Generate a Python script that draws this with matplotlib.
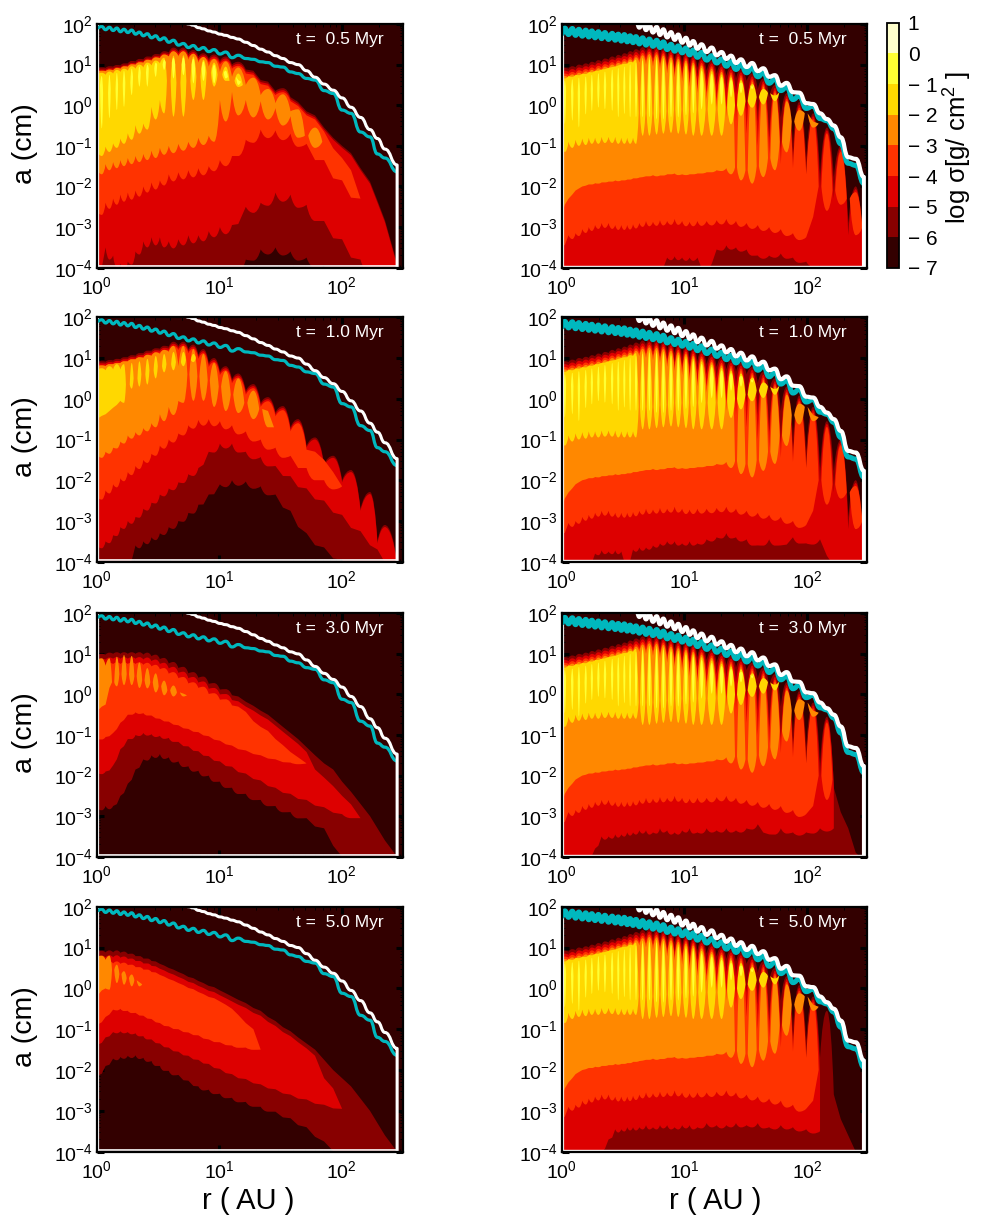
import numpy as np
import matplotlib
matplotlib.use("Agg")
import matplotlib.pyplot as plt
from matplotlib.path import Path
from matplotlib.patches import PathPatch
from matplotlib.colors import ListedColormap, BoundaryNorm
from matplotlib.cm import ScalarMappable
from matplotlib.ticker import LogLocator, NullFormatter

plt.rcParams['font.family'] = ['Liberation Sans', 'DejaVu Sans']
plt.rcParams['mathtext.fontset'] = 'custom'
plt.rcParams['mathtext.rm'] = 'Liberation Sans'
plt.rcParams['mathtext.default'] = 'regular'

times = ["0.5", "1.0", "3.0", "5.0"]
band_levels = [-7, -6, -5, -4, -3, -2, -1, 0, 1]
band_colors = ["#330000", "#880000", "#DD0000", "#FF3300", "#FF8800", "#FFD800", "#FFFF33", "#FFFFCC"]
bar_labels = ["\u2212 7", "\u2212 6", "\u2212 5", "\u2212 4", "\u2212 3", "\u2212 2", "\u2212 1", "0", "1"]
x_ticks = [1, 10, 100]
y_ticks = [1e-4, 1e-3, 1e-2, 1e-1, 1, 10, 100]

# ripple crests (AU), all vertical values below are log10(a)
left_peaks = [1.10, 1.27, 1.46, 1.67, 1.93, 2.23, 2.59, 3.03, 3.55, 4.23, 5.10, 6.15, 7.43, 9.08, 11.3, 14.3, 19.0,
              25.0, 33.1, 44.0, 60.5, 85.1, 119, 170, 225]
right_peaks = [1.06, 1.22, 1.38, 1.57, 1.76, 1.99, 2.25, 2.58, 2.89, 3.24, 3.61, 4.03, 4.57, 5.18, 5.94, 6.73, 7.78,
               8.91, 10.3, 11.8, 13.8, 16.7, 20.1, 24.0, 28.9, 35.7, 44.0, 54.7, 68.2, 86.3, 112, 145, 188, 249]
left_end = 283
right_end = 291

# lines, left column
l_cyan_p = [1.94, 1.92, 1.90, 1.87, 1.85, 1.80, 1.76, 1.71, 1.66, 1.60, 1.52, 1.47, 1.42, 1.37, 1.31, 1.23, 1.13, 1.05,
            .94, .78, .62, .29, -.2, -.78, -1.3]
l_cyan_t = [1.9, 1.86, 1.84, 1.81, 1.79, 1.75, 1.71, 1.66, 1.61, 1.55, 1.48, 1.42, 1.37, 1.32, 1.26, 1.17, 1.15, 1.07,
            .96, .82, .66, .36, -.12, -.66, -1.2, -1.64]
l_white_p = [2.05, 1.97, 1.88, 1.80, 1.72, 1.63, 1.47, 1.31, 1.15, 1.0, .69, .37, -.05, -.6, -1.08]
l_white_t = [2.1, 2.0, 1.91, 1.83, 1.75, 1.67, 1.55, 1.38, 1.22, 1.05, .85, .52, .18, -.3, -.82, -1.47]

# lines, right column
r_cyan_p = [1.90, 1.89, 1.87, 1.85, 1.83, 1.81, 1.79, 1.77, 1.75, 1.74, 1.71, 1.69, 1.66, 1.63, 1.60, 1.56, 1.50, 1.46,
            1.41, 1.36, 1.30, 1.22, 1.14, 1.07, 1.00, .92, .80, .65, .45, .23, -.02, -.38, -.95, -1.48]
r_cyan_t = [1.76, 1.74, 1.72, 1.70, 1.68, 1.66, 1.64, 1.62, 1.60, 1.58, 1.56, 1.54, 1.51, 1.48, 1.45, 1.42, 1.37, 1.33,
            1.29, 1.24, 1.18, 1.11, 1.04, .96, .88, .80, .70, .54, .36, .14, -.08, -.33, -.58, -1.43, -1.93]
r_white_p = [2.1, 2.04, 1.98, 1.93, 1.87, 1.8, 1.74, 1.66, 1.58, 1.5, 1.42, 1.31, 1.22, 1.13, 1.04, .91, .74, .55, .31,
             .03, -.34, -.79, -1.32]
r_white_t = [2.15, 1.91, 1.85, 1.79, 1.73, 1.67, 1.61, 1.54, 1.47, 1.39, 1.31, 1.23, 1.14, 1.04, .94, .84, .70, .48, .32,
             .05, -.2, -.5, -1.28, -1.77]

# left column, 0.5 Myr
a_top_p = [.93, .96, .99, 1.03, 1.09, 1.14, 1.2, 1.26, 1.33, 1.42, 1.42, 1.36, 1.28, 1.25, 1.2, 1.07, .85, .58, .42, .08,
           -.25, -.8, -1.18, -1.88, -2.83]
a_top_t = [.90, .92, .95, .98, 1.03, 1.08, 1.13, 1.19, 1.25, 1.3, 1.33, 1.27, 1.2, 1.15, 1.1, 1.0, .88, .62, .35, .2,
           -.15, -.55, -1.0, -1.55, -2.35, -3.9]
a_d6 = [-4.1] * 16 + [-3.8, -3.55, -3.5, -3.6, -3.75, -3.95, -4.1, -4.1, -4.1, -4.1]
a_d5 = [-4.1, -3.5, -3.7, -3.9, -3.85, -3.6, -3.35, -3.25, -3.25, -3.35, -3.3, -3.2, -3.2, -3.1, -3.0, -2.95, -2.5, -2.4,
        -2.15, -2.2, -2.45, -2.85, -3.3, -3.8, -4.1, -4.1]
a_d4 = [-2.6, -2.4, -2.3, -2.2, -2.15, -2.1, -2.0, -1.9, -1.85, -1.7, -1.65, -1.6, -1.55, -1.5, -1.35, -1.25, -.85, -.6,
        -.62, -.7, -.95, -1.35, -1.85, -2.3]
a_ro_tail_up = [-1.06, -1.6]
a_ro_tail_t = [-1.3, -2.3]
a_or_up = [.85, .88, .92, .96, 1.01, 1.06, 1.12, 1.18, 1.25, 1.33, 1.33, 1.27, 1.19, 1.14, 1.08, .93, .68, .4, .27, -.1, -.55]
a_or_ut = [.82, .84, .86, .9, .95, 1.0, 1.05, 1.1, 1.16, 1.2, 1.2, 1.12, 1.05, .95, .82, .7, .5, .25, .05, -.15, -.75, -.9]
a_or_lp = [-1.7, -1.6, -1.55, -1.5, -1.45, -1.4, -1.35, -1.3, -1.22, -1.18, -1.12, -1.05, -.98, -.9, -.4, -.25, -.3, -.35,
           -.5, -.8, -1.05]
a_or_lt = [-1.55, -1.45, -1.4, -1.35, -1.3, -1.25, -1.2, -1.12, -1.05, -1.0, -.95, -.9, -.8, -.75, .13, .33, .13, .1,
           -.07, -.27, -.75, -.9]
a_go_up = [.8, .83, .87, .9, .96, 1.0, 1.05, 1.1, 1.17, 1.22, 1.23, 1.2, 1.12, 1.05, .95, .78]
a_go_ut = [.75, .75, .78, .82, .85, .9, .93, .98, 1.03, .6, .55, .6, .7, .8, .75, .6, .5]
a_go_lp = [-1.25, -1.15, -1.05, -.95, -.85, -.7, -.6, -.35, -.2, -.28, -.28, .13, .13, .46, .6, .45]
a_go_lt = [-1.1, -1.02, -.94, -.82, -.69, -.49, -.45, -.04, .13, .6, .55, .6, .7, .8, .75, .6, .5]
a_ye_up = [.72, .75, .8, .85, .9, .95, 1.0, 1.05, 1.12, 1.17, 1.18, 1.15, 1.08, 1.0, .85, .62]
a_ye_lp = [-.57, -.32, -.12, -.04, .25, .46, .46, .7, .87, .66, .74, .54, .6, .54, .66, .5]
a_ye_w = [.5, .3, .4, .5, .55, .7, .8, .9, 1.0, 1.05, 1.0, 1.0, .9, .85, .8, .7, .58]

# left column, 1.0 Myr
b_top_p = [.92, .95, .98, 1.02, 1.07, 1.12, 1.18, 1.24, 1.3, 1.4, 1.4, 1.33, 1.22, 1.0, .8, .62, .36, .04, -.18, -.5,
           -.95, -1.4, -1.75, -2.29, -3.1]
b_top_t = [.89, .91, .94, .97, 1.02, 1.06, 1.12, 1.18, 1.23, 1.28, 1.3, 1.22, 1.08, .88, .68, .48, .2, -.1, -.33, -.7,
           -1.15, -1.6, -2.0, -2.7, -3.5, -4.0]
b_d6 = [-4.1, -4.1, -4.1, -4.1, -4.1, -3.6, -3.5, -3.4, -3.3, -3.15, -3.0, -2.8, -2.6, -2.35, -2.1, -2.0, -2.03, -2.15,
        -2.35, -2.75, -3.3, -3.65, -3.95, -4.1, -4.1, -4.1]
b_d5 = [-3.6, -3.5, -3.35, -3.15, -3.0, -2.9, -2.7, -2.55, -2.35, -2.2, -2.05, -1.85, -1.7, -1.3, -1.1, -1.1, -1.3, -1.43,
        -1.65, -1.9, -2.2, -2.5, -2.85, -3.25, -3.7, -4.1]
b_d4 = [-2.4, -2.25, -2.1, -1.95, -1.8, -1.65, -1.5, -1.35, -1.15, -1.0, -.85, -.65, -.52, -.5, -.55, -.65, -.8, -1.0,
        -1.2, -1.4, -1.7, -2.0, -2.15]
b_ro_tail_up = [-1.3, -1.8]
b_ro_tail_t = [-1.5, -2.15]
b_or_up = [.82, .85, .88, .92, .97, 1.02, 1.08, 1.14, 1.2, 1.3, 1.3, 1.22, 1.1, .88, .68, .5, .2, -.3]
b_or_ut = [.8, .8, .85, .88, .92, .97, 1.0, 1.05, 1.1, 1.15, .8, .6, .55, .45, .3, .1, -.1, -.25, -.7]
b_or_lp = [-1.45, -1.35, -1.22, -1.1, -.98, -.9, -.8, -.7, -.55, -.4, -.1, -.05, -.05, -.2, -.3, -.35, -.5, -.7]
b_or_lt = [-1.35, -1.3, -1.2, -1.05, -.9, -.82, -.72, -.6, -.38, -.2, -.05, .6, .55, .45, .3, .1, -.1, -.25, -.7]
b_go_up = [.75, .8, .85, .85, .88, .92, .98, 1.05, 1.1, 1.15, 1.15, 1.1]
b_go_ut = [.7, .7, .72, .72, .35, .5, .6, .7, .8, .85, .9, .95, 1.0]
b_go_lp = [-.42, -.3, -.15, -.1, .25, .3, .35, .5, .65, .7, .8, .9]
b_go_lt = [-.5, -.38, -.22, -.05, .35, .5, .6, .7, .8, .85, .9, .95, 1.0]

# left column, 3.0 Myr
c_top_p = [1.0, 1.03, 1.04, 1.04, 1.04, 1.04, 1.03, .98, .9, .8, .68, .55, .44, .28, .13, -.05, -.28, -.5, -.8, -1.1,
           -1.5, -1.85, -2.4, -3.0, -3.6]
c_top_t = [.97, .98, 1.0, 1.0, 1.0, 1.0, .98, .94, .87, .76, .65, .52, .41, .26, .12, -.02, -.18, -.4, -.65, -.95,
           -1.3, -1.7, -2.15, -2.7, -3.3, -4.0]
c_d6 = [-2.8, -2.75, -2.75, -2.5, -2.2, -1.85, -1.6, -1.5, -1.47, -1.55, -1.65, -1.77, -1.88, -2.0, -2.15, -2.3, -2.45,
        -2.6, -2.75, -2.9, -3.05, -3.3, -4.0, -4.1, -4.1, -4.1]
c_d5 = [-1.93, -1.9, -1.75, -1.35, -1.1, -1.0, -.95, -.98, -1.02, -1.07, -1.17, -1.28, -1.4, -1.52, -1.65, -1.78, -1.95,
        -2.12, -2.3, -2.45, -2.6, -2.78, -2.95, -3.05]
c_red_tail_up = [-1.85, -2.26, -2.71]
c_red_tail_t = [-2.05, -2.5, -3.05]
c_d4 = [-1.11, -1.05, -.95, -.7, -.5, -.44, -.46, -.52, -.6, -.67, -.76, -.85, -.93, -1.03, -1.14, -1.26, -1.38, -1.5,
        -1.6, -1.68, -1.7]
c_ro_tail_up = [-.66, -.9, -1.25, -1.55]
c_ro_tail_t = [-.8, -1.1, -1.42, -1.7]
c_or_up = [.89, .89, .93, .97, .95, .79, .65, .52, .34, .22, .02]
c_or_ut = [.85, .7, .3, .5, .5, .45, .35, .3, .2, .1, .05, -.02]
c_or_lp = [-.3, .16, .2, .23, .23, .16, .15, .05, -.02, -.05, -.05]
c_or_lt = [-.42, -.25, .3, .5, .5, .45, .35, .3, .2, .1, .05, -.02]

# left column, 5.0 Myr
d_top_p = [.92, .93, .93, .9, .85, .79, .73, .66, .56, .46, .35, .25, .13, .03, -.12, -.28, -.48, -.7, -.95, -1.2, -1.5,
           -2.0, -2.4, -3.0, -3.6]
d_top_t = [.88, .88, .88, .87, .84, .79, .73, .67, .6, .5, .4, .28, .18, .06, -.05, -.2, -.36, -.55, -.8, -1.05, -1.35,
           -1.75, -2.2, -2.7, -3.3, -4.0]
d_d6 = [-2.16, -1.9, -1.72, -1.68, -1.65, -1.64, -1.7, -1.78, -1.9, -2.02, -2.12, -2.26, -2.4, -2.48, -2.58, -2.68, -2.78,
        -2.9, -3.02, -3.18, -3.4, -3.75, -4.1, -4.1, -4.1, -4.1]
d_d5 = [-1.39, -1.2, -1.07, -1.05, -1.07, -1.1, -1.17, -1.25, -1.35, -1.45, -1.55, -1.65, -1.75, -1.85, -1.97, -2.1, -2.22,
        -2.35, -2.47, -2.6, -2.72, -2.85, -2.95]
d_red_tail_up = [-1.65, -2.45]
d_red_tail_t = [-2.2, -2.95]
d_d4 = [-.9, -.7, -.52, -.5, -.55, -.6, -.67, -.75, -.85, -.93, -1.0, -1.08, -1.15, -1.25, -1.32, -1.4, -1.45, -1.5]
d_ro_tail_up = [-.4, -.65, -1.0]
d_ro_tail_t = [-.5, -.85, -1.5]
d_or_up = [.8, .8, .58, .42, .34, .15]
d_or_ut = [.78, .7, .45, .35, .25, .2, .1]
d_or_lp = [-.05, -.03, .13, .09, .05, .05]
d_or_lt = [-.2, 0.0, .45, .35, .25, .2, .1]

# right column, shared by the four times
r_top_p = [.92, .96, 1.0, 1.03, 1.07, 1.11, 1.15, 1.2, 1.24, 1.28, 1.33, 1.38, 1.43, 1.46, 1.45, 1.42, 1.38, 1.34, 1.3,
           1.25, 1.18, 1.1, 1.02, .95, .88, .78, .66, .5, .3, .08, -.2, -.55, -1.0, -2.0]
r_top_t = [.88, .9, .93, .97, 1.0, 1.04, 1.07, 1.12, 1.16, 1.2, 1.25, 1.3, 1.33, 1.33, 1.3, 1.25, 1.18, 1.12, 1.05, 1.0,
           .92, .85, .78, .72, .66, .6, .39, .2, -.3, -.95, -1.28, -1.69, -1.77, -2.9, -3.9]
r_red_ut = [.8, .82, .85, .9, .93, .97, 1.0, 1.05, 1.1, 1.15, 1.18, 1.2, 1.22, 1.22, 1.15, 1.05, .98, .9, .85, .78, .7,
            .6, .5, .4, .3, -.1, -.4, -.8, -1.1, -1.5, -1.9, -2.1, -2.3, -3.2, -4.0]
r_ro_ut = [.72, .75, .78, .82, .85, .88, .92, .97, 1.0, 1.05, 1.08, 1.1, 1.12, 1.1, 1.05, .95, .85, .75, .65, .55, .4,
           .3, .1, -.1, -.4, -.7, -1.0, -1.2, -1.45, -1.55, -1.7, -2.0, -2.1, -2.3, -3.0]
r_ro_lt = [-3.3, -3.05, -3.0, -2.9, -2.85, -2.8, -2.75, -2.75, -2.8, -2.8, -2.8, -2.78, -2.75, -2.7, -2.72, -2.68, -2.7,
           -2.65, -2.7, -2.72, -2.7, -2.7, -2.68, -2.65, -2.7, -2.75, -2.8, -2.85, -2.9, -3.0, -3.1, -2.0, -2.1, -2.3, -3.0]
r_ro_lp_tail = [-2.75, -2.6, -2.45, -3.2]
r_or_ut = [.65, .68, .7, .75, .78, .8, .85, .9, .95, 1.0, 1.03, 1.05, 1.05, 1.0, .95, .88, .78, .68, .58, .45, .3, .15,
           -.05, -.3, -1.53, -1.6, -1.5, -1.3, -.9, -.4, -.2, -.45]
r_or_lp = [-2.45, -2.2, -2.05, -1.98, -1.95, -1.93, -1.9, -1.88, -1.87, -1.85, -1.83, -1.8, -1.77, -1.75, -1.75, -1.73,
           -1.7, -1.72, -1.72, -1.7, -1.68, -1.65, -1.62, -1.7, -1.85, -1.93, -1.77, -1.6, -1.16, -.63, -.55]
r_or_lt = [-2.7, -2.3, -2.1, -2.0, -1.95, -1.92, -1.9, -1.88, -1.85, -1.85, -1.83, -1.8, -1.78, -1.75, -1.72, -1.73, -1.7,
           -1.68, -1.7, -1.7, -1.68, -1.65, -1.6, -1.55, -1.53, -1.6, -1.5, -1.3, -.9, -.4, -.2, -.45]
r_go_ut = [.7, .72, .75, .78, .82, .85, .88, .92, .95, 1.0, 1.02, 1.05, -.2, -.2, -.2, -.15, -.15, -.1, -.1, -.1, -.1,
           -.1, -.1, -.05, 0, .1, .2, .3, .35]
r_go_lp = [-1.15, -1.05, -1.0, -.98, -.95, -.95, -.93, -.93, -.95, -.95, -.95, -.95, -.75, -.75, -.72, -.7, -.68, -.7,
           -.72, -.75, -.75, -.75, -.75, -.47, -.26, -.06, .02, .1]
r_go_lt = [-.98, -.9, -.85, -.82, -.8, -.8, -.78, -.78, -.78, -.8, -.8, -.8, -.2, -.2, -.2, -.15, -.15, -.1, -.1, -.1,
           -.1, -.1, -.1, -.05, 0, .1, .2, .3, .35]
r_ye_lp = [-.46, -.38, -.55, -.23, -.14, -.06, -.1, -.14, -.3, -.22, -.3, -.3, -.3, -.3, -.35, -.35, -.3, -.3, -.25, -.2,
           -.1, .02, .02, .2, .3, .4]
r_ye_w = [.35, .35, .3, .3, .4, .4, .45, .5, .5, .45, .45, .45, .4, .45, .45, .45, .45, .45, .45, .45, .5, .5, .5, .5,
          .5, .5, .55]

# right column, per time
r_red_lt = [
    [-4.1] * 16 + [-3.75, -3.72, -3.75, -3.75, -3.75, -4.1, -3.55, -3.45, -3.5, -3.55, -3.7, -3.7, -3.65, -3.75, -3.85,
                   -3.95, -4.1, -4.1, -4.1],
    [-4.1, -4.1, -4.1, -4.1, -4.1, -3.8, -3.72, -3.75, -3.72, -3.75, -4.1, -3.7, -3.65, -3.65, -3.6, -3.55, -3.5, -3.5,
     -3.55, -3.5, -3.55, -3.45, -3.4, -3.3, -3.4, -3.45, -3.6, -3.45, -3.6, -3.4, -3.55, -3.45, -4.1, -4.1, -4.1],
    [-4.1, -4.1, -4.1, -4.1, -4.0, -3.8, -3.5, -3.5, -3.45, -3.45, -3.4, -3.4, -3.35, -3.35, -3.4, -3.3, -3.35, -3.4,
     -3.35, -3.3, -3.4, -3.3, -3.35, -3.3, -3.35, -3.3, -3.2, -3.45, -3.3, -3.4, -3.4, -3.3, -3.3, -4.1, -4.1],
    [-4.1, -4.1, -4.1, -4.1, -4.1, -4.1, -4.0, -3.7, -3.45, -3.45, -3.4, -3.4, -3.4, -3.35, -3.4, -3.35, -3.35, -3.4,
     -3.35, -3.35, -3.4, -3.3, -3.35, -3.35, -3.3, -3.35, -3.3, -3.4, -3.35, -3.4, -3.45, -3.5, -4.1, -4.1, -4.1],
]
r_ro_shift = [-.15, 0.0, .15, .15]
r_gold_shift = [0.0, 0.0, .35, .3]
r_last_peak = [34, 34, 32, 31]
r_tail_p = [[-1.0, -2.0], [-1.0, -2.0], [-2.9, -3.9], [-3.2, -4.0]]
r_tail_t = [[-1.77, -2.9, -3.9], [-1.77, -2.9, -3.9], [-2.3, -3.3, -4.1], [-2.6, -3.6, -4.1]]


def half_nodes(peaks, r_end):
    # x position in log10 r: even index = trough, odd index = crest
    p = np.log10(peaks)
    xs = [0.0]
    for i in range(len(p)):
        xs.append(p[i])
        xs.append((p[i] + p[i + 1]) / 2 if i + 1 < len(p) else np.log10(r_end))
    return np.array(xs)


def add_ripple(v, c, pts):
    # pts goes trough, crest, trough ... ; the pen already sits on pts[0]
    for i in range(1, len(pts), 2):
        x0, y0 = pts[i - 1]
        x1, y1 = pts[i]
        x2, y2 = pts[i + 1]
        if (y1 - y0) * (y2 - y1) > 0:
            # on a steep stretch there is no crest to round
            v += [(x1, y1), (x2, y2)]
            c += [Path.LINETO, Path.LINETO]
            continue
        d1, d2 = x1 - x0, x2 - x1
        v += [(x0 + .25 * d1, y0 + .6 * (y1 - y0)), (x0 + .6 * d1, y1), (x1, y1)]
        v += [(x1 + .4 * d2, y1), (x1 + .75 * d2, y2 + .6 * (y1 - y2)), (x2, y2)]
        c += [Path.CURVE4] * 6


def band(ax, X, up, ut, lp, lt, color, first=0, width=1.0):
    up, ut, lp, lt = [np.asarray(a, dtype=float) for a in (up, ut, lp, lt)]
    n = len(up)
    assert len(lp) == n and len(ut) == n + 1 and len(lt) == n + 1
    gap = ut <= lt
    verts, codes = [], []
    a = 0
    while a < n:
        b = a
        while b + 1 < n and not gap[b + 1]:
            b += 1
        xl, xr = X[2 * (first + a)], X[2 * (first + b + 1)]
        if gap[a]:
            xc = X[2 * (first + a) + 1]
            xl = xc - width * (xc - xl)
        if gap[b + 1]:
            xc = X[2 * (first + b) + 1]
            xr = xc + width * (xr - xc)
        yl_u = (ut[a] + lt[a]) / 2 if gap[a] else ut[a]
        yr_u = (ut[b + 1] + lt[b + 1]) / 2 if gap[b + 1] else ut[b + 1]
        yl_l = yl_u if gap[a] else lt[a]
        yr_l = yr_u if gap[b + 1] else lt[b + 1]
        upper = [(xl, yl_u)]
        lower = [(xr, yr_l)]
        for k in range(a, b + 1):
            upper.append((X[2 * (first + k) + 1], up[k]))
            upper.append((xr, yr_u) if k == b else (X[2 * (first + k + 1)], ut[k + 1]))
        for k in range(b, a - 1, -1):
            lower.append((X[2 * (first + k) + 1], lp[k]))
            lower.append((xl, yl_l) if k == a else (X[2 * (first + k)], lt[k]))
        v, c = [upper[0]], [Path.MOVETO]
        add_ripple(v, c, upper)
        v.append(lower[0])
        c.append(Path.LINETO)
        add_ripple(v, c, lower)
        v.append(upper[0])
        c.append(Path.CLOSEPOLY)
        verts += v
        codes += c
        a = b + 1
    ax.add_patch(PathPatch(Path(10.0 ** np.array(verts), codes), fc=color, ec='none', lw=0, zorder=2))


def dips(lt, dip):
    lt = np.asarray(lt, dtype=float)
    return (lt[:-1] + lt[1:]) / 2 - dip


def tail(arr, vals):
    arr = np.array(arr, dtype=float)
    arr[-len(vals):] = vals
    return arr


def wave(ax, X, p, t, color, lw, first=0, drop=False):
    # smooth line through crest and trough readings
    v = [(X[2 * first], t[0])]
    c = [Path.MOVETO]
    for i in range(len(p)):
        for x0, y0, x1, y1 in ((X[2 * (first + i)], t[i], X[2 * (first + i) + 1], p[i]),
                               (X[2 * (first + i) + 1], p[i], X[2 * (first + i + 1)], t[i + 1])):
            m = (x0 + x1) / 2
            v += [(m, y0), (m, y1), (x1, y1)]
            c += [Path.CURVE4] * 3
    if drop:
        v.append((X[-1], -4.0))
        c.append(Path.LINETO)
    ax.add_patch(PathPatch(Path(10.0 ** np.array(v), c), fc='none', ec=color, lw=lw, zorder=5, joinstyle='round'))


def make_axes(fig, x0, x1, y0, y1, xmax):
    ax = fig.add_axes([x0 / 981, 1 - y1 / 1223, (x1 - x0) / 981, (y1 - y0) / 1223])
    ax.set_xscale('log')
    ax.set_yscale('log')
    ax.set_facecolor(band_colors[0])
    ax.set_xticks(x_ticks)
    ax.set_yticks(y_ticks)
    ax.set_xlim(1, xmax)
    ax.set_ylim(1e-4, 1e2)
    for axis in (ax.xaxis, ax.yaxis):
        axis.set_minor_locator(LogLocator(base=10, subs=range(2, 10), numticks=100))
        axis.set_minor_formatter(NullFormatter())
    ax.tick_params(which='major', direction='in', top=True, right=True, length=5, width=2.2,
                   labelsize=14, colors='black', zorder=10)
    ax.tick_params(axis='x', which='major', pad=6)
    ax.tick_params(axis='y', which='major', pad=3)
    ax.tick_params(which='minor', direction='in', top=True, right=True, length=2.5, width=.7)
    for s in ax.spines.values():
        s.set_linewidth(1.6)
        s.set_zorder(8)
    return ax


fig = plt.figure(figsize=(9.81, 12.23), dpi=100)

rows_y = [(24, 267.7), (317.3, 561.7), (613.3, 856.7), (906.7, 1151.7)]
XL = half_nodes(left_peaks, left_end)
XR = half_nodes(right_peaks, right_end)

for row, (y0, y1) in enumerate(rows_y):
    ax = make_axes(fig, 96.7, 403, y0, y1, 316)

    if row == 0:
        tp, tt = np.array(a_top_p), np.array(a_top_t)
        band(ax, XL, tp, tt, dips(a_d6, .15), a_d6, band_colors[1])
        band(ax, XL, tp - .05, tt - .05, dips(a_d5, .2), a_d5, band_colors[2])
        band(ax, XL, tail(tp[:23] - .1, a_ro_tail_up), tail(tt[:24] - .1, a_ro_tail_t), dips(a_d4, .2), a_d4, band_colors[3])
        band(ax, XL, a_or_up, a_or_ut, a_or_lp, a_or_lt, band_colors[4], width=.8)
        band(ax, XL, a_go_up, a_go_ut, a_go_lp, a_go_lt, band_colors[5], width=.6)
        band(ax, XL, a_ye_up, a_ye_w, a_ye_lp, a_ye_w, band_colors[6], width=.35)
    elif row == 1:
        tp, tt = np.array(b_top_p), np.array(b_top_t)
        band(ax, XL, tp, tt, dips(b_d6, .12), b_d6, band_colors[1])
        band(ax, XL, tp - .05, tt - .05, dips(b_d5, .12), b_d5, band_colors[2])
        band(ax, XL, tail(tp[:22] - .1, b_ro_tail_up), tail(tt[:23] - .1, b_ro_tail_t), dips(b_d4, .15), b_d4, band_colors[3])
        band(ax, XL, b_or_up, b_or_ut, b_or_lp, b_or_lt, band_colors[4], width=.8)
        band(ax, XL, b_go_up, b_go_ut, b_go_lp, b_go_lt, band_colors[5], width=.5)
    elif row == 2:
        tp, tt = np.array(c_top_p), np.array(c_top_t)
        band(ax, XL, tp, tt, dips(c_d6, .08), c_d6, band_colors[1])
        band(ax, XL, tail(tp[:23] - .12, c_red_tail_up), tail(tt[:24] - .12, c_red_tail_t), dips(c_d5, .05), c_d5, band_colors[2])
        band(ax, XL, tail(tp[:20] - .25, c_ro_tail_up), tail(tt[:21] - .25, c_ro_tail_t), dips(c_d4, .03), c_d4, band_colors[3])
        band(ax, XL, c_or_up, c_or_ut, c_or_lp, c_or_lt, band_colors[4], width=.7)
    else:
        tp, tt = np.array(d_top_p), np.array(d_top_t)
        band(ax, XL, tp, tt, dips(d_d6, .06), d_d6, band_colors[1])
        band(ax, XL, tail(tp[:22] - .12, d_red_tail_up), tail(tt[:23] - .12, d_red_tail_t), dips(d_d5, .04), d_d5, band_colors[2])
        band(ax, XL, tail(tp[:17] - .27, d_ro_tail_up), tail(tt[:18] - .27, d_ro_tail_t), dips(d_d4, .03), d_d4, band_colors[3])
        band(ax, XL, d_or_up, d_or_ut, d_or_lp, d_or_lt, band_colors[4], width=.7)

    ax.plot([1.03, 1.03], [1.05e-4, 90], color='white', lw=1.6, zorder=4)
    ax.plot([1, left_end], [1.08e-4, 1.08e-4], color='white', lw=1.2, zorder=4)
    wave(ax, XL, l_cyan_p, l_cyan_t, '#00B8BE', 2.3)
    wave(ax, XL, l_white_p, l_white_t, 'white', 2.2, first=10, drop=True)
    fig.text(340 / 981, 1 - (y0 + 15.5) / 1223, "t =  " + times[row] + " Myr", color='white', fontsize=12.5,
             ha='center', va='center')
    fig.text(25 / 981, 1 - (y0 + y1) / 2 / 1223 + .002, "a (cm)", rotation=90, fontsize=20.5, ha='center', va='center')

    # right column
    ax = make_axes(fig, 561.7, 866.7, y0, y1, 306)
    last = r_last_peak[row]
    top_p = np.array(r_top_p)
    top_t = np.array(r_top_t)
    top_p[-2:] = r_tail_p[row]
    top_t[-3:] = r_tail_t[row]
    red_lt = np.array(r_red_lt[row])
    ro_lt = np.array(r_ro_lt)
    ro_lt[:31] += r_ro_shift[row]
    ro_lp = tail(dips(ro_lt, .12), r_ro_lp_tail)
    go_lp = np.array(r_go_lp)
    go_lt = np.array(r_go_lt)
    go_lp[:12] += r_gold_shift[row]
    go_lt[:12] += r_gold_shift[row]
    keep_up = np.array(r_top_p)

    band(ax, XR, top_p, top_t, np.full(34, -4.1), np.full(35, -4.1), band_colors[1])
    band(ax, XR, keep_up[:last] - .07, r_red_ut[:last + 1], dips(red_lt[:last + 1], .08), red_lt[:last + 1], band_colors[2],
         width=.85)
    band(ax, XR, keep_up[:last] - .14, r_ro_ut[:last + 1], ro_lp[:last], ro_lt[:last + 1], band_colors[3], width=.8)
    band(ax, XR, keep_up[:31] - .2, r_or_ut, r_or_lp, r_or_lt, band_colors[4], width=.8)
    band(ax, XR, keep_up[:28] - .26, r_go_ut, go_lp, go_lt, band_colors[5], width=.8)
    band(ax, XR, keep_up[:26] - .32, r_ye_w, r_ye_lp, r_ye_w, band_colors[6], width=.35)

    ax.plot([1.02, 1.02], [1.05e-4, 60], color='white', lw=1.6, zorder=4)
    ax.plot([1, right_end], [1.08e-4, 1.08e-4], color='white', lw=1.0, zorder=4)
    wave(ax, XR, r_cyan_p, r_cyan_t, '#00B8BE', 3.6)
    wave(ax, XR, r_white_p, r_white_t, 'white', 3.0, first=11, drop=True)
    fig.text(803 / 981, 1 - (y0 + 15.5) / 1223, "t =  " + times[row] + " Myr", color='white', fontsize=12.5,
             ha='center', va='center')

fig.text(248 / 981, 1 - 1201 / 1223, "r ( AU )", fontsize=21, ha='center', va='center')
fig.text(715 / 981, 1 - 1201 / 1223, "r ( AU )", fontsize=21, ha='center', va='center')

# colour bar
cax = fig.add_axes([887.3 / 981, 1 - 268 / 1223, 12 / 981, 245.3 / 1223])
norm = BoundaryNorm(band_levels, len(band_colors))
cb = fig.colorbar(ScalarMappable(norm=norm, cmap=ListedColormap(band_colors)), cax=cax, ticks=band_levels,
                  spacing='proportional')
cb.set_ticklabels(bar_labels)
cb.ax.tick_params(length=0, pad=6, labelsize=15)
cb.outline.set_linewidth(1.3)
cb.ax.minorticks_off()
fig.text(958 / 981, 1 - 147 / 1223, "log \u03c3[g/ cm$^{2}$ ]", rotation=90, fontsize=18.5, ha='center', va='center')

fig.savefig("out.png", dpi=100)
